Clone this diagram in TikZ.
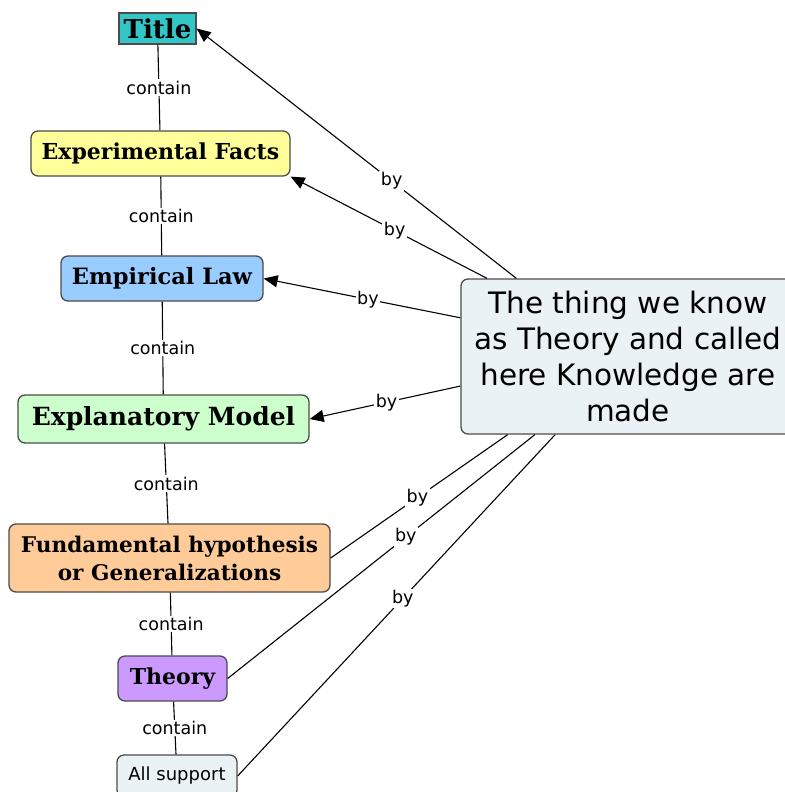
\documentclass[tikz,border=0pt]{standalone}
\usepackage{fontspec}
\setmainfont{DejaVu Sans}
\newfontfamily\conceptfont{DejaVu Serif}
\usetikzlibrary{arrows.meta}

\definecolor{titlefill}{HTML}{33C6C6}
\definecolor{factsfill}{HTML}{FFFF99}
\definecolor{lawfill}{HTML}{99CCFF}
\definecolor{modelfill}{HTML}{CCFFCC}
\definecolor{hypfill}{HTML}{FFCC99}
\definecolor{theoryfill}{HTML}{CC99FF}
\definecolor{paleblue}{HTML}{EBF2F5}

\begin{document}
\begin{tikzpicture}[x=1pt, y=-1pt,
	concept/.style = {draw=black!70, line width=1.3pt, rounded corners=7pt, inner sep=0pt, align=center},
	boldtext/.style = {font=\conceptfont\bfseries\fontsize{#1}{28}\selectfont},
	link/.style = {font=\fontsize{17.5}{20}\selectfont, fill=white, inner sep=1.5pt},
	byarrow/.style = {line width=1.1pt, -{Triangle[length=14pt,width=12pt]}},
	byline/.style = {line width=1.1pt}]
	\useasboundingbox (0,0) rectangle (784,792);
	% concepts on the left
	\node [concept, boldtext=26, fill=titlefill, sharp corners, minimum width=77pt, minimum height=31pt] (title) at (157.5,28.5) {Title};
	\node [concept, boldtext=22, fill=factsfill, minimum width=259pt, minimum height=45pt] (facts) at (160.5,153.5) {Experimental Facts};
	\node [concept, boldtext=22.5, fill=lawfill, minimum width=202pt, minimum height=45pt] (law) at (162,278.5) {Empirical Law};
	\node [concept, boldtext=25, fill=modelfill, minimum width=291pt, minimum height=48pt] (model) at (163.5,419) {Explanatory Model};
	\node [concept, boldtext=21.6, fill=hypfill, minimum width=321pt, minimum height=68pt] (hyp) at (169.5,558) {Fundamental hypothesis\\or Generalizations};
	\node [concept, boldtext=22, fill=theoryfill, minimum width=109pt, minimum height=45pt] (theory) at (172.5,678.5) {Theory};
	\node [concept, fill=paleblue, font=\fontsize{18}{20}\selectfont, minimum width=120pt, minimum height=42pt] (support) at (177,776) {All support};
	% the big one on the right
	\node [concept, fill=paleblue, font=\fontsize{29.5}{36}\selectfont, minimum width=334pt, minimum height=155pt] (know) at (628,356.5) {The thing we know\\as Theory and called\\here Knowledge are\\made};
	% contain
	\draw [byline] (title) -- node [link] {contain} (facts);
	\draw [byline] (facts) -- node [link] {contain} (law);
	\draw [byline] (law) -- node [link] {contain} (model);
	\draw [byline] (model) -- node [link] {contain} (hyp);
	\draw [byline] (hyp) -- node [link] {contain} (theory);
	\draw [byline] (theory) -- node [link] {contain} (support);
	% by
	\draw [byarrow] (know.145.6) -- node [link, pos=.39] {by} (title.east);
	\draw [byarrow] (know.151.7) -- node [link, pos=.47] {by} (facts.south east);
	\draw [byarrow] (know.167.7) -- node [link, pos=.47] {by} (law.east);
	\draw [byarrow] (know.190.7) -- node [link, pos=.49] {by} (model.east);
	\draw [byline] (hyp.east) -- node [link, pos=.49] {by} (know.213.3);
	\draw [byline] (theory.east) -- node [link, pos=.58] {by} (know.220.1);
	\draw [byline] (support.east) -- node [link, pos=.52] {by} (know.227.1);
\end{tikzpicture}
\end{document}
